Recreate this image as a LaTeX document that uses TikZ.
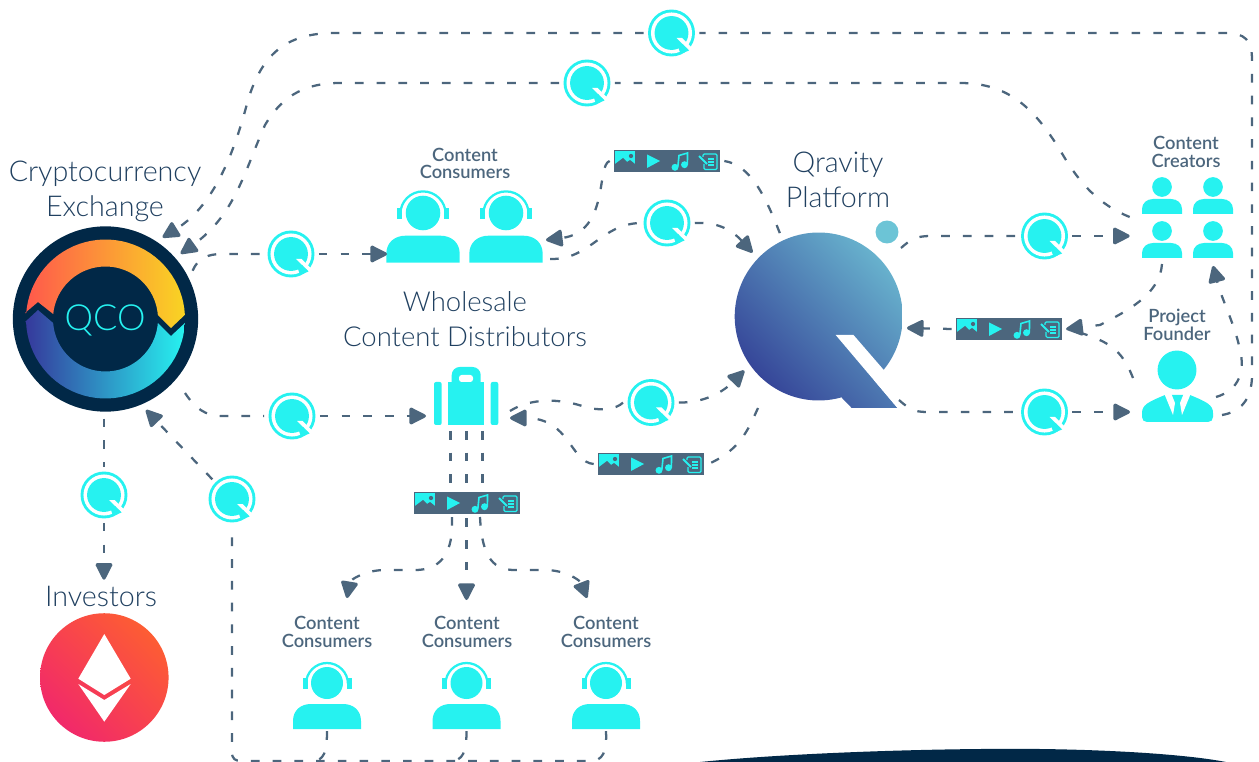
\documentclass[tikz,border=0pt]{standalone}
\usepackage{fontspec}
\usetikzlibrary{arrows.meta,shadings}
\setmainfont{Lato}
\newfontfamily\lightfont{Lato Light}
\newfontfamily\medfont{Lato Semibold}

% Q coin on the flow lines
\newcommand{\qcoin}[3]{
  \node[coinbox] (#1) at (#2,#3) {};
  \begin{scope}[shift={(#2,#3)}]
    \fill[qcyan] (0,0) circle[radius=17.6pt];
    \fill[white] (0,0) circle[radius=15.4pt];
    \fill[qcyan] (0,0) circle[radius=12.7pt];
    \fill[white] (5,5) -- (10.5,5) -- (25,19.5) -- (19.5,19.5) -- cycle;
    \fill[qcyan] (11,11) -- (17.5,17.5) -- (9,21) -- (7,15) -- cycle;
  \end{scope}
}

% person with headset, #4 = scale
\newcommand{\headset}[4]{
  \node[bodybox] (#1) at (#2,{#3+33.5*#4}) {};
  \begin{scope}[shift={(#2,#3)},scale=#4]
    \fill[qcyan] (0,0) circle[radius=12pt];
    \draw[qcyan,line width=1.7pt] (-21,1) arc[start angle=180,end angle=0,radius=15.75pt];
    \fill[qcyan] (-24.5,-5) rectangle (-19.5,6);
    \fill[qcyan] (19.5,-5) rectangle (24.5,6);
    \fill[qcyan] (-34,46) -- (-34,38) .. controls (-34,27) and (-26,21) .. (-16,21) -- (16,21) .. controls (26,21) and (34,27) .. (34,38) -- (34,46) -- cycle;
  \end{scope}
}

% plain person of the creators group
\newcommand{\smallperson}[2]{
  \begin{scope}[shift={(#1,#2)}]
    \fill[qcyan] (0,0) circle[radius=7.4pt];
    \fill[qcyan] (-20,27) -- (-20,22) .. controls (-20,16) and (-15,12) .. (-9,12) -- (9,12) .. controls (15,12) and (20,16) .. (20,22) -- (20,27) -- cycle;
  \end{scope}
}

% bar with the four media icons
\newcommand{\mediabar}[3]{
  \node[barbox] (#1) at (#2,#3) {};
  \begin{scope}[shift={(#2,#3)}]
    \fill[qcyan] (-52,-10) rectangle (-32,5);
    \fill[qslate] (-52,5) -- (-52,3) -- (-44,-3) -- (-40,1) -- (-37,-1) -- (-32,3) -- (-32,5) -- cycle;
    \fill[qslate] (-36,-5) circle[radius=1.6pt];
    \fill[qcyan] (-20,-6.5) -- (-7,0) -- (-20,7) -- cycle;
    \fill[qcyan] (8,6.3) circle[radius=2.6pt];
    \fill[qcyan] (17.5,3.7) circle[radius=2.6pt];
    \draw[qcyan,line width=1.2pt] (10.8,6) -- (12,-5.5) -- (20.5,-8) -- (20.4,3.5);
    \draw[qcyan,line width=0.9pt,rounded corners=1pt] (36,-4) -- (36,-7) -- (50,-7) -- (50,8.5) -- (37,8.5) -- (37,3);
    \draw[qcyan,line width=0.9pt] (41,-2) -- (47,-2) (41,1) -- (47,1) (41,4) -- (47,4);
    \draw[qcyan,line width=1.4pt] (32,-5) -- (40,3);
  \end{scope}
}

\begin{document}
\begin{tikzpicture}[x=0.75pt,y=-0.75pt,
  coinbox/.style={circle,minimum size=35.25pt,inner sep=0pt,outer sep=3.2pt},
  bodybox/.style={minimum width=51pt,minimum height=19pt,inner sep=0pt,outer sep=1.5pt},
  barbox/.style={fill=qslate,minimum width=80pt,minimum height=17pt,inner sep=0pt,outer sep=3pt},
  flow/.style={qslate,line width=1.7pt,dash pattern=on 6.5pt off 9.8pt},
  flowtip/.style={flow,-{Triangle[round,length=14pt,width=13.5pt,line width=2.4pt]}},
  biglabel/.style={text=qtext,align=center,font=\lightfont\fontsize{21.5}{26.2}\selectfont},
  smalllabel/.style={text=qslate,align=center,font=\medfont\fontsize{13.7}{13.2}\selectfont}]

% Colors
\definecolor{qcyan}{RGB}{38,242,240}
\definecolor{qslate}{RGB}{76,102,125}
\definecolor{qnavy}{RGB}{1,40,71}
\definecolor{qtext}{RGB}{32,64,96}
\definecolor{qdot}{RGB}{108,196,214}
\definecolor{ringred}{RGB}{255,88,76}
\definecolor{ringorange}{RGB}{253,155,56}
\definecolor{ringyellow}{RGB}{249,212,35}
\definecolor{ringindigo}{RGB}{54,56,155}
\definecolor{ringblue}{RGB}{46,142,192}
\definecolor{ethpink}{RGB}{238,30,118}
\definecolor{ethred}{RGB}{248,66,78}
\definecolor{ethorange}{RGB}{255,104,40}
\definecolor{platlow}{RGB}{42,44,140}
\definecolor{platmid}{RGB}{78,122,178}
\definecolor{plathigh}{RGB}{114,200,216}

\useasboundingbox (0,0) rectangle (1259,762);

% === Bottom edge ===
\fill[qnavy] (700,762) .. controls (800,752) and (950,748) .. (1040,749) .. controls (1120,750) and (1190,755) .. (1226,762) -- cycle;

% === Exchange ===
\node[circle,fill=qnavy,minimum size=139pt,inner sep=0pt,outer sep=5.2pt] (exch) at (105.5,319) {};
\shade[left color=ringred,middle color=ringorange,right color=ringyellow]
  (25,313) -- plot[domain=184.3:357,samples=40] ({105.5+79.5*cos(\x)},{319+79.5*sin(\x)}) -- (171,328) -- plot[domain=355.6:185.4,samples=40] ({105.5+52.5*cos(\x)},{319+52.5*sin(\x)}) -- (38,302) -- cycle;
\shade[left color=ringindigo,middle color=ringblue,right color=qcyan]
  (25,322) -- plot[domain=177.8:2.9,samples=40] ({105.5+79.5*cos(\x)},{319+79.5*sin(\x)}) -- (171,336) -- plot[domain=4.4:175.6,samples=40] ({105.5+52.5*cos(\x)},{319+52.5*sin(\x)}) -- (38,310) -- cycle;
\node[text=qcyan,font=\lightfont\fontsize{27}{27}\selectfont] (qco) at (105,320) {QCO};
\node[biglabel] (exchlabel) at (105,191) {Cryptocurrency\\Exchange};
\coordinate (exchSE) at (185,393);

% === Investors ===
\node[biglabel,minimum height=24pt] (investors) at (101,596) {Investors};
\node[circle,minimum size=96.5pt,inner sep=0pt] (ethcoin) at (104.3,677.5) {};
\shade[lower left=ethpink,upper right=ethorange,upper left=ethred,lower right=ethred] (104.3,677.5) circle[radius=48.2pt];
\fill[white] (104.3,634) -- (130.7,678.7) -- (104.3,695) -- (78.3,678.7) -- cycle;
\fill[white] (78.3,684) -- (104.3,700) -- (130.7,684) -- (104.3,721.7) -- cycle;

% === Qravity platform ===
\node[circle,minimum size=126pt,inner sep=0pt,outer sep=6pt] (qplat) at (818.7,316.5) {};
\shade[lower left=platlow,upper right=plathigh,upper left=platmid,lower right=platmid]
  plot[domain=0:360,samples=120] ({818.7+84*cos(\x)},{316.5-84*sin(\x)}) -- cycle (835.7,335) -- (842,398) -- (851.7,408) -- (897.5,408) -- cycle;
\fill[white] (835.7,335) -- (853.5,335) -- (908,398) -- (897.5,408) -- cycle;
\fill[qdot] (887,232) circle[radius=8.6pt];
\node[biglabel] (qplatlabel) at (838,180) {Qravity\\Platform};
\coordinate (qplatNE) at (901,248);
\coordinate (qplatSE) at (899,400);
\coordinate (qplatSW) at (758,408);
\coordinate (qplatE) at (907,328);

% === Consumers top ===
\node[smalllabel] (conslabel) at (465,163.5) {Content\\Consumers};
\headset{consL}{423}{213}{1.08}
\headset{consR}{506}{213}{1.08}
\coordinate (consRtop) at (546,240);
\coordinate (consRlow) at (550,259);

% === Wholesale ===
\node[biglabel,font=\lightfont\fontsize{20.6}{26.2}\selectfont] (wholesale) at (465,319.5) {Wholesale\\Content Distributors};
\node[minimum width=48pt,minimum height=43.5pt,inner sep=0pt,outer sep=6pt] (case) at (466,396) {};
\fill[qcyan,rounded corners=1.5pt] (434,382) rectangle (441.7,425);
\fill[qcyan,rounded corners=1.5pt] (490.7,382) rectangle (498.3,425);
\fill[qcyan] (448,382) rectangle (484,425);
\fill[qcyan,rounded corners=6pt] (451.7,390) -- (451.7,367) -- (480.7,367) -- (480.7,390) -- cycle;
\fill[white,rounded corners=2pt] (459,382) -- (459,375) -- (473,375) -- (473,382) -- cycle;
\coordinate (caseS1) at (450.5,431);
\coordinate (caseS2) at (466.5,431);
\coordinate (caseS3) at (482.5,431);
\coordinate (caseNE) at (510,411);
\coordinate (caseE) at (510,418);

% === Consumers bottom ===
\node[smalllabel] (consAlabel) at (327,632) {Content\\Consumers};
\node[smalllabel] (consBlabel) at (467,632) {Content\\Consumers};
\node[smalllabel] (consClabel) at (606,632) {Content\\Consumers};
\headset{consA}{327}{683}{1}
\headset{consB}{466.5}{683}{1}
\headset{consC}{606}{683}{1}
\coordinate (consAtop) at (347,598);
\coordinate (consBtop) at (466.5,600);
\coordinate (consCtop) at (587,598);

% === Creators ===
\node[smalllabel] (creatorlabel) at (1186,152) {Content\\Creators};
\smallperson{1162}{187}
\smallperson{1213}{187}
\smallperson{1162}{231}
\smallperson{1213}{231}
\node[minimum width=68pt,minimum height=61pt,inner sep=0pt,outer sep=9pt] (creators) at (1187,217) {};
\coordinate (creatorsB) at (1162,264);
\coordinate (creatorsTip) at (1213,266);

% === Founder ===
\node[smalllabel] (founderlabel) at (1177,325) {Project\\Founder};
\node[minimum width=54pt,minimum height=54pt,inner sep=0pt,outer sep=9pt] (founder) at (1178,386) {};
\fill[qcyan] (1177,370) circle[radius=14.6pt];
\fill[qcyan] (1147,422) .. controls (1144,422) and (1142,420) .. (1142,417) -- (1142,413) .. controls (1142,405) and (1148,402) .. (1165,395) -- (1190,395) .. controls (1207,402) and (1213,405) .. (1213,413) -- (1213,417) .. controls (1213,420) and (1211,422) .. (1208,422) -- cycle;
\fill[white] (1164,393) -- (1171,393) -- (1175,403) -- (1173,415) -- cycle;
\fill[white] (1191,393) -- (1184,393) -- (1180,403) -- (1182,415) -- cycle;
\coordinate (founderNW) at (1133,378);
\coordinate (founderNE) at (1216,397);
\coordinate (founderE) at (1222,415);

% === Coins and bars ===
\qcoin{coinA}{671.5}{33}
\qcoin{coinB}{587}{83}
\qcoin{coinC}{291}{254}
\qcoin{coinD}{292}{416}
\qcoin{coinE}{232}{499}
\qcoin{coinF}{104}{495}
\qcoin{coinG}{667}{223}
\qcoin{coinH}{1044.5}{236}
\qcoin{coinI}{1044.5}{412}
\qcoin{coinJ}{651}{402.5}
\mediabar{barTop}{667}{161}
\mediabar{barMid}{1009}{329}
\mediabar{barRight}{651}{464}
\mediabar{barLow}{467}{503}

% === Flows ===
\draw[flow] (founderE) .. controls (1240,412) and (1252,400) .. (1252,375) -- (1252,60) .. controls (1252,40) and (1245,33) .. (1225,33) -- (coinA.east);
\draw[flowtip] (coinA.west) -- (335,33) .. controls (285,33) and (262,55) .. (248,100) .. controls (235,150) and (215,205) .. (exch.55);
\draw[flow] (creators.west) .. controls (1100,205) and (1080,185) .. (1060,150) .. controls (1035,110) and (1010,83) .. (960,83) -- (coinB.east);
\draw[flowtip] (coinB.west) -- (340,83) .. controls (300,83) and (280,100) .. (265,125) .. controls (245,170) and (235,215) .. (exch.41);
\draw[flow] (exch.29) .. controls (198,258) and (208,254) .. (222,254) -- (coinC.west);
\draw[flowtip] (coinC.east) -- (coinC.east -| consL.west);
\draw[flow] (exchSE) .. controls (195,408) and (205,416) .. (222,416) -- (coinD.west);
\draw[flowtip] (coinD.east) -- (coinD.east -| case.west);
\draw[flow] (coinF.north |- exch.south) -- (coinF.north);
\draw[flowtip] (coinF.south) -- (coinF.south |- investors.north);
\draw[flowtip] (coinE.north west) -- (exch.-66);
\draw[flow] (consC.south) .. controls (607,752) and (603,761) .. (590,761) -- (242,761) .. controls (235,761) and (232,759) .. (232,752) -- (coinE.south);
\draw[flow] (consB.south) .. controls (466.5,752) and (463,761) .. (450,761);
\draw[flow] (consA.south) .. controls (327,752) and (324,761) .. (312,761);
\draw[flow] (consRlow) .. controls (590,260) and (600,225) .. (coinG.west);
\draw[flowtip] (coinG.east) .. controls (715,222) and (730,228) .. (qplat.136);
\draw[flow] (qplat.115) .. controls (765,195) and (750,165) .. (barTop.east);
\draw[flowtip] (barTop.west) .. controls (596,165) and (610,232) .. (consRtop);
\draw[flow] (qplatNE) .. controls (910,240) and (916,236) .. (930,236) -- (coinH.west);
\draw[flowtip] (coinH.east) -- (coinH.east -| creators.west);
\draw[flow] (qplatSE) .. controls (912,412) and (918,412) .. (930,412) -- (coinI.west);
\draw[flowtip] (coinI.east) -- (coinI.east -| founder.west);
\draw[flowtip] (creatorsB) .. controls (1160,295) and (1125,312) .. (1100,325) -- (barMid.east);
\draw[flow] (founderNW) .. controls (1122,350) and (1110,340) .. (barMid.east);
\draw[flowtip] (barMid.west) -- (qplatE);
\draw[flowtip] (founderNE) .. controls (1240,390) and (1245,370) .. (1240,350) .. controls (1235,325) and (1222,300) .. (creatorsTip);
\draw[flow] (caseNE) .. controls (530,398) and (560,398) .. (585,407) .. controls (600,411) and (615,410) .. (coinJ.west);
\draw[flowtip] (coinJ.east) .. controls (700,403) and (720,395) .. (qplat.216);
\draw[flow] (qplatSW) .. controls (748,430) and (740,450) .. (barRight.east);
\draw[flowtip] (barRight.west) .. controls (570,462) and (570,418) .. (caseE);
\draw[flow] (caseS1) -- (caseS1 |- barLow.north);
\draw[flow] (caseS2) -- (caseS2 |- barLow.north);
\draw[flow] (caseS3) -- (caseS3 |- barLow.north);
\draw[flowtip] (452,517) -- (452,530) .. controls (450,560) and (435,570) .. (415,570) -- (385,570) .. controls (365,570) and (350,580) .. (consAtop);
\draw[flowtip] (barLow.south -| consBtop) -- (consBtop);
\draw[flowtip] (480,517) .. controls (482,560) and (495,570) .. (515,570) -- (545,570) .. controls (565,570) and (580,580) .. (consCtop);

\end{tikzpicture}
\end{document}
